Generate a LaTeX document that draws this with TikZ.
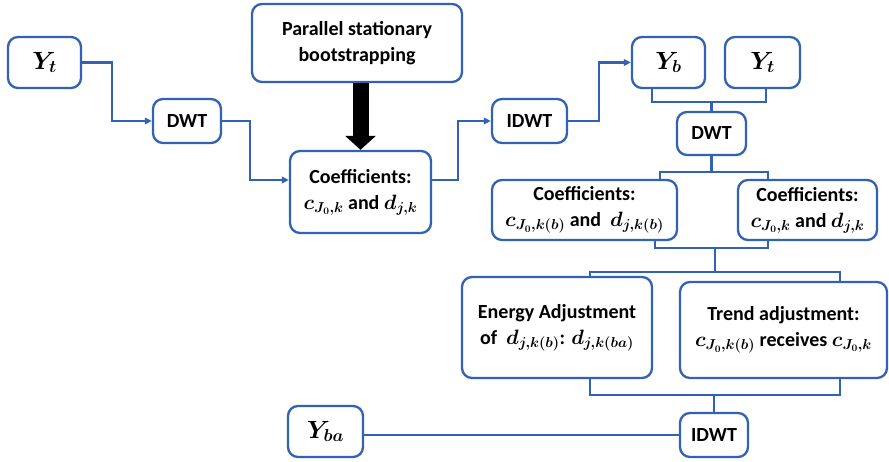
\documentclass[tikz,border=0pt]{standalone}
\usepackage{amsmath,bm}
\usepackage{fontspec}
\setmainfont{Carlito}
\usetikzlibrary{arrows.meta,calc}
\definecolor{lineblue}{RGB}{50,98,180}
\tikzset{
  box/.style={draw=lineblue, line width=2.3pt, rounded corners=10pt, fill=white,
    align=center, inner sep=0pt, font=\fontsize{20}{26}\selectfont\bfseries\boldmath},
  bigmath/.style={font=\fontsize{23}{26}\selectfont\bfseries\boldmath},
  conn/.style={draw=lineblue, line width=2.1pt},
  arr/.style={conn, -{Triangle[length=7pt,width=6.5pt]}},
  bigarrow/.style={draw=black, line width=16pt, -{Triangle[length=14pt,width=30pt]}}
}
\begin{document}
\begin{tikzpicture}[x=1pt,y=-1pt]
\fill[white] (0,0) rectangle (889,462);
\useasboundingbox (0,0) rectangle (889,462);
% nodes
\node[box, bigmath, minimum width=73pt, minimum height=51pt] (yt1) at (44.5,62.5) {$Y_t$};
\node[box, minimum width=68pt, minimum height=44pt] (dwt1) at (187,121) {DWT};
\node[box, minimum width=210pt, minimum height=78pt] (psb) at (357,43) {Parallel stationary\\bootstrapping};
\node[box, minimum width=141pt, minimum height=82pt] (coef1) at (360.5,192) {Coefficients:\\$c_{J_0,k}$ and $d_{j,k}$};
\node[box, minimum width=75pt, minimum height=44pt] (idwt1) at (529.5,121) {IDWT};
\node[box, bigmath, minimum width=73pt, minimum height=51pt] (yb) at (668.5,62.5) {$Y_b$};
\node[box, bigmath, minimum width=75pt, minimum height=51pt] (yt2) at (762.5,62.5) {$Y_t$};
\node[box, minimum width=69pt, minimum height=43pt] (dwt2) at (711.5,133.5) {DWT};
\node[box, minimum width=185pt, minimum height=60pt] (coefb) at (584.5,210) {Coefficients:\\$c_{J_0,k(b)}$ and\ \ $d_{j,k(b)}$};
\node[box, minimum width=139pt, minimum height=60pt] (coef2) at (807.5,210) {Coefficients:\\$c_{J_0,k}$ and $d_{j,k}$};
\node[box, minimum width=190pt, minimum height=101pt] (energy) at (557,327.5) {Energy Adjustment\\of\ \ $d_{j,k(b)}$: $d_{j,k(ba)}$};
\node[box, minimum width=207pt, minimum height=96pt] (trend) at (783.5,330) {Trend adjustment:\\$c_{J_0,k(b)}$ receives $c_{J_0,k}$};
\node[box, minimum width=68pt, minimum height=44pt] (idwt2) at (714,435) {IDWT};
\node[box, bigmath, minimum width=75pt, minimum height=51pt] (yba) at (325.5,431.5) {$Y_{ba}$};
% junctions
\coordinate (j1) at (711.5,102);
\coordinate (j2) at (711.5,172);
\coordinate (j3) at (715,248);
\coordinate (j4) at (715,272);
\coordinate (j5) at (714,395);
% connectors
\draw[arr] (yt1.east) -- ++(30,0) |- (dwt1.west);
\draw[arr] (dwt1.east) -- ++(28,0) |- ($(coef1.west)+(0,-12)$);
\draw[arr] ($(coef1.east)+(0,-12)$) -- ++(26,0) |- (idwt1.west);
\draw[arr] (idwt1.east) -- ++(31,0) |- (yb.west);
\draw[bigarrow] (coef1.north |- psb.south) -- (coef1.north);
\draw[conn] ($(yb.south)+(-16.5,0)$) |- (j1) -| ($(yt2.south)+(3.5,0)$);
\draw[conn] (j1) -- (dwt2.north);
\draw[conn] (dwt2.south) -- (j2);
\draw[conn] ($(coefb.north)+(75.5,0)$) |- (j2) -| ($(coef2.north)+(-39.5,0)$);
\draw[conn] ($(coefb.south)+(70.5,0)$) |- (j3) -| ($(coef2.south)+(-39.5,0)$);
\draw[conn] (j3) -- (j4);
\draw[conn] ($(energy.north)+(33,0)$) |- (j4) -| ($(trend.north)+(56.5,0)$);
\draw[conn] ($(energy.south)+(33,0)$) |- (j5) -| ($(trend.south)+(56.5,0)$);
\draw[conn] (j5) -- (idwt2.north);
\draw[conn] (idwt2.west) -- (idwt2.west -| yba.east);
\end{tikzpicture}
\end{document}
